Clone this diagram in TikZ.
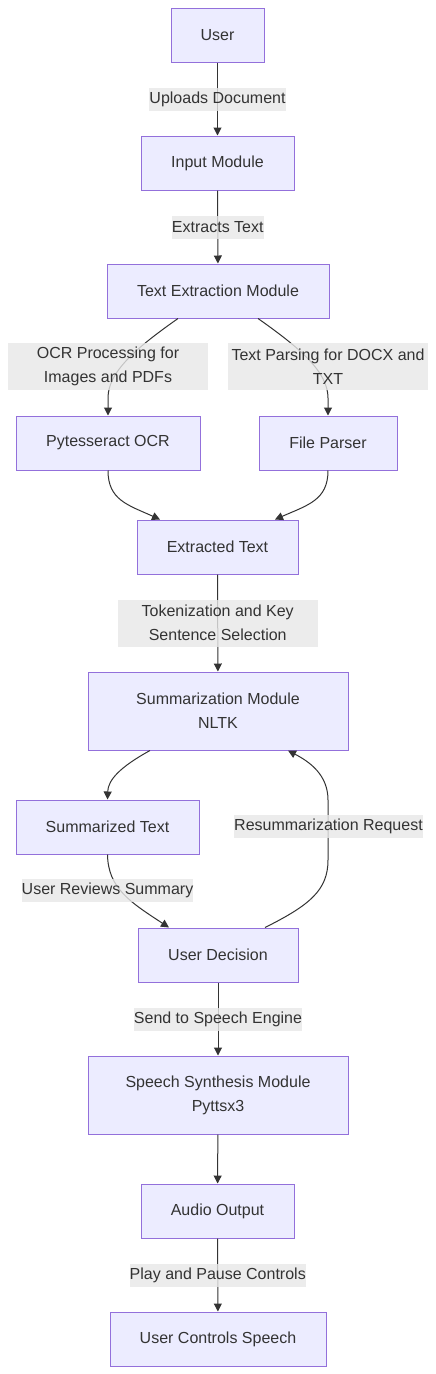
\documentclass[tikz,border=0pt]{standalone}
\usepackage{fontspec}
\setmainfont{Liberation Sans}
\usetikzlibrary{arrows.meta}
\definecolor{boxfill}{HTML}{ECECFF}
\definecolor{boxline}{HTML}{9370DB}
\definecolor{txt}{HTML}{333333}
\definecolor{lblbg}{HTML}{E8E8E8}
\tikzset{
  box/.style={draw=boxline, fill=boxfill, line width=1pt, text=txt, inner sep=0pt,
    minimum height=54pt, align=center, font=\fontsize{16}{24}\selectfont},
  lbl/.style={fill=lblbg, fill opacity=0.8, text opacity=1, text=txt, inner xsep=0pt, inner ysep=0pt,
    minimum height=23pt, align=center, font=\fontsize{16}{24}\selectfont},
  edge/.style={draw=txt, line width=1pt, -{Triangle[length=8pt,width=8pt]}},
}
\begin{document}
\begin{tikzpicture}[x=1pt,y=-1pt]
\useasboundingbox (0,0) rectangle (436,1374);
\fill[white] (0,0) rectangle (436,1374);
% nodes
\node[box, minimum width=93pt] (user) at (217.5,35) {User};
\node[box, minimum width=153pt] (input) at (217.5,163) {Input Module};
\node[box, minimum width=222pt] (tem) at (218,291) {Text Extraction Module};
\node[box, minimum width=184pt] (pyt) at (108,443) {Pytesseract OCR};
\node[box, minimum width=138pt] (fp) at (328,443) {File Parser};
\node[box, minimum width=161pt] (ext) at (217.5,547) {Extracted Text};
\node[box, minimum width=260pt, minimum height=78pt] (summ) at (218,711) {Summarization Module\\NLTK};
\node[box, minimum width=183pt] (sumt) at (107.5,827) {Summarized Text};
\node[box, minimum width=160pt] (ud) at (218,955) {User Decision};
\node[box, minimum width=260pt, minimum height=78pt] (speech) at (218,1095) {Speech Synthesis Module\\Pyttsx3};
\node[box, minimum width=153pt] (audio) at (217.5,1211) {Audio Output};
\node[box, minimum width=216pt] (ctrl) at (218,1339) {User Controls Speech};
% straight edges
\draw[edge] (user) -- node[lbl] (l1) {Uploads Document} (input);
\draw[edge] (input) -- node[lbl] (l2) {Extracts Text} (tem);
\draw[edge] (ext) -- node[lbl, minimum width=200pt, minimum height=47pt] (l5) {Tokenization and Key\\Sentence Selection} (summ);
\draw[edge] (ud) -- node[lbl] (l8) {Send to Speech Engine} (speech);
\draw[edge] (speech) -- (audio);
\draw[edge] (audio) -- node[lbl] (l9) {Play and Pause Controls} (ctrl);
% curved edges
\draw[edge] ([xshift=-40pt]tem.south) .. controls (136,348) and (108,372) .. (108,398) -- (pyt.north);
\draw[edge] ([xshift=40pt]tem.south) .. controls (300,348) and (328,372) .. (328,398) -- (fp.north);
\draw[edge] (pyt.south) .. controls (108,500) and (128,505) .. ([xshift=-57.5pt]ext.north);
\draw[edge] (fp.south) .. controls (328,500) and (308,505) .. ([xshift=57.5pt]ext.north);
\draw[edge] ([xshift=-68pt]summ.south) .. controls (120,767) and (108,780) .. (sumt.north);
\draw[edge] (sumt.south) .. controls (108,888) and (130,902) .. ([xshift=-49pt]ud.north);
\draw[edge] ([xshift=47pt]ud.north) .. controls (310,905) and (328,890) .. (328,860) -- (328,800) .. controls (328,775) and (310,762) .. ([xshift=70pt]summ.south);
% labels on curved edges
\node[lbl, minimum width=200pt, minimum height=47pt] (l3) at (108,366.5) {OCR Processing for\\Images and PDFs};
\node[lbl, minimum width=200pt, minimum height=47pt] (l4) at (328,366.5) {Text Parsing for DOCX and\\TXT};
\node[lbl] (l6) at (328.5,826.5) {Resummarization Request};
\node[lbl] (l7) at (107.5,890.5) {User Reviews Summary};
\end{tikzpicture}
\end{document}
